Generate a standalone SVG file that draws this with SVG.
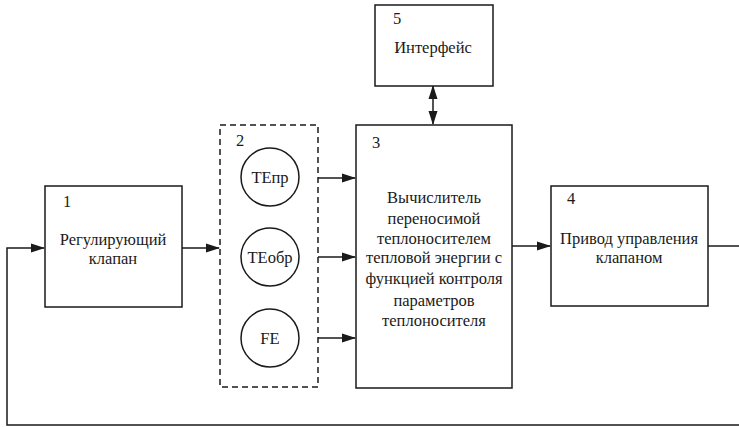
<svg xmlns="http://www.w3.org/2000/svg" width="739" height="427" viewBox="0 0 739 427">
<style>
.box{fill:#fff;stroke:#1a1a1a;stroke-width:1.5}
.dash{fill:none;stroke:#1a1a1a;stroke-width:1.5;stroke-dasharray:6,4}
.line{fill:none;stroke:#1a1a1a;stroke-width:1.5}
text{font-family:"Liberation Serif","Times New Roman",serif;fill:#1a1a1a;font-size:16.5px}
.c{text-anchor:middle}
</style>
<defs>
<marker id="ah" markerWidth="14" markerHeight="10" refX="13" refY="5" orient="auto" markerUnits="userSpaceOnUse">
<path d="M0,0.5 L14,5 L0,9.5 z" fill="#1a1a1a"/>
</marker>
<marker id="ahs" markerWidth="14" markerHeight="10" refX="13" refY="5" orient="auto-start-reverse" markerUnits="userSpaceOnUse">
<path d="M0,0.5 L14,5 L0,9.5 z" fill="#1a1a1a"/>
</marker>
</defs>
<g id="connectors">
<polyline class="line" points="739,425 7,425 7,248 44,248" marker-end="url(#ah)"/>
<line class="line" x1="182" y1="248" x2="219" y2="248" marker-end="url(#ah)"/>
<line class="line" x1="318" y1="178" x2="355" y2="178" marker-end="url(#ah)"/>
<line class="line" x1="318" y1="257" x2="355" y2="257" marker-end="url(#ah)"/>
<line class="line" x1="318" y1="338" x2="355" y2="338" marker-end="url(#ah)"/>
<line class="line" x1="512" y1="246" x2="550" y2="246" marker-end="url(#ah)"/>
<line class="line" x1="708" y1="246" x2="739" y2="246"/>
<line class="line" x1="433" y1="86" x2="433" y2="124" marker-start="url(#ahs)" marker-end="url(#ah)"/>
</g>
<g id="node1">
<rect class="box" x="45" y="186" width="137" height="121"/>
<text x="63" y="207">1</text>
<text class="c" x="113" y="245">Регулирующий</text>
<text class="c" x="113" y="264">клапан</text>
</g>
<g id="node2">
<rect class="dash" x="220" y="125" width="98" height="262"/>
<text x="236" y="146">2</text>
<circle class="box" cx="270" cy="177" r="29"/>
<text class="c" x="270" y="183">TEпр</text>
<circle class="box" cx="270" cy="257" r="29"/>
<text class="c" x="270" y="263">TEобр</text>
<circle class="box" cx="270" cy="338" r="29"/>
<text class="c" x="270" y="344">FE</text>
</g>
<g id="node3">
<rect class="box" x="356" y="125" width="156" height="263"/>
<text x="372" y="148">3</text>
<text class="c" x="434" y="203">Вычислитель</text>
<text class="c" x="434" y="224">переносимой</text>
<text class="c" x="434" y="244">теплоносителем</text>
<text class="c" x="434" y="263">тепловой энергии с</text>
<text class="c" x="434" y="284">функцией контроля</text>
<text class="c" x="434" y="306">параметров</text>
<text class="c" x="434" y="326">теплоносителя</text>
</g>
<g id="node4">
<rect class="box" x="551" y="186" width="157" height="120"/>
<text x="567" y="204">4</text>
<text class="c" x="629" y="244">Привод управления</text>
<text class="c" x="629" y="263">клапаном</text>
</g>
<g id="node5">
<rect class="box" x="375" y="5" width="118" height="81"/>
<text x="393" y="24">5</text>
<text class="c" x="433" y="53">Интерфейс</text>
</g>
</svg>
